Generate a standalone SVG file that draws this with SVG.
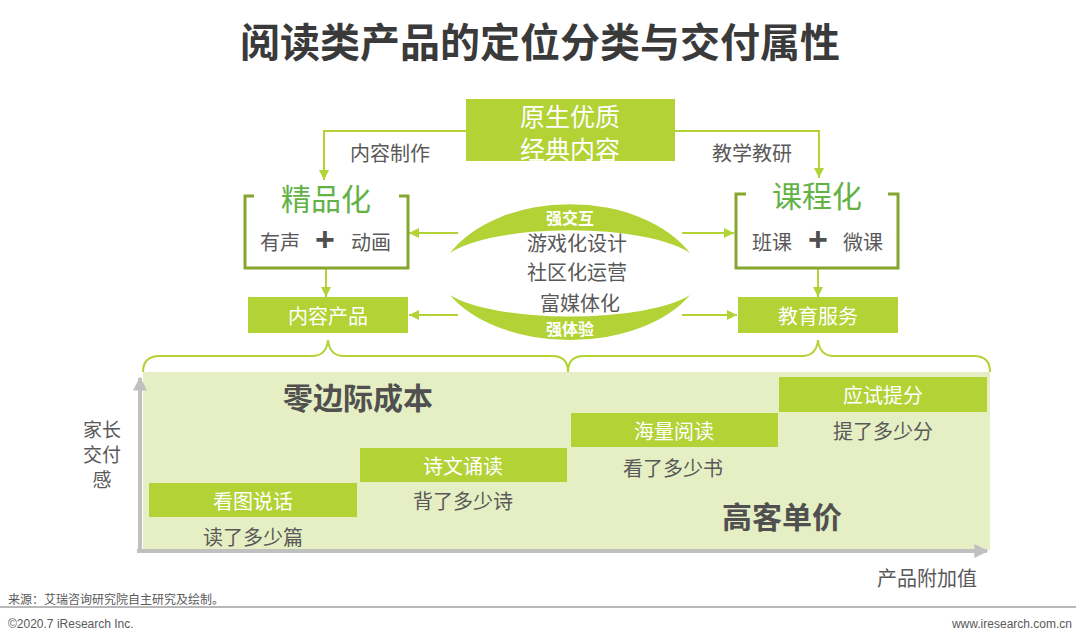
<svg xmlns="http://www.w3.org/2000/svg" width="1080" height="644" viewBox="0 0 1080 644">
<defs>
<style>
text{font-family:"Noto Sans CJK SC","Liberation Sans",sans-serif;}
.t{fill:#595959;font-size:20px;text-anchor:middle;dominant-baseline:central;}
.w{fill:#ffffff;font-size:20px;text-anchor:middle;dominant-baseline:central;}
.box{fill:#b2d235;}
.con{fill:none;stroke:#b2d235;stroke-width:2;}
.brk{fill:none;stroke:#86a62e;stroke-width:3;}
.big{fill:#62b246;font-size:30px;text-anchor:middle;dominant-baseline:central;}
.bold{fill:#505050;font-size:30px;font-weight:bold;text-anchor:middle;dominant-baseline:central;}
.plus{fill:#505050;font-size:34px;font-weight:bold;text-anchor:middle;dominant-baseline:central;font-family:"Liberation Sans",sans-serif;}
.axis{fill:none;stroke:#c0c0c0;stroke-width:4;}
.ylab{fill:#595959;font-size:19px;text-anchor:middle;dominant-baseline:central;}
</style>
<marker id="ah" viewBox="0 0 10 10" refX="10" refY="5" markerWidth="10" markerHeight="10" markerUnits="userSpaceOnUse" orient="auto">
<path d="M0,0 L10,5 L0,10 Z" fill="#b2d235"/>
</marker>
<marker id="ax" viewBox="0 0 10 10" refX="9" refY="5" markerWidth="14" markerHeight="14" markerUnits="userSpaceOnUse" orient="auto">
<path d="M0,0 L10,5 L0,10 Z" fill="#c0c0c0"/>
</marker>
</defs>
<rect width="1080" height="644" fill="#ffffff"/>
<text x="540" y="40" style="font-size:40px;font-weight:bold;fill:#3a3a3a;text-anchor:middle;dominant-baseline:central;">阅读类产品的定位分类与交付属性</text>

<g id="background">
<rect x="143" y="372" width="847" height="178" fill="#e6efc4"/>
</g>

<g id="connectors">
<path class="con" d="M466,131 H324 V180" marker-end="url(#ah)"/>
<path class="con" d="M675,131 H819 V178" marker-end="url(#ah)"/>
<path class="con" d="M326,268 V297" marker-end="url(#ah)"/>
<path class="con" d="M818,268 V297" marker-end="url(#ah)"/>
<path class="con" d="M458,233 H409" marker-end="url(#ah)"/>
<path class="con" d="M682,233 H734" marker-end="url(#ah)"/>
<path class="con" d="M458,315 H409" marker-end="url(#ah)"/>
<path class="con" d="M682,315 H737" marker-end="url(#ah)"/>
<path class="con" d="M143,372 C143,361 149,356 160,356 L312,356 C322,356 327,350 328,340 C329,350 334,356 344,356 L552,356 C562,356 568,361 568,372"/>
<path class="con" d="M568,372 C568,361 574,356 584,356 L802,356 C812,356 817,350 818,340 C819,350 824,356 834,356 L974,356 C984,356 990,361 990,372"/>
<path class="axis" d="M140,551 V378" marker-end="url(#ax)"/>
<path class="axis" d="M137,551 H987" marker-end="url(#ax)"/>
</g>
<text class="t" x="390" y="152">内容制作</text>
<text class="t" x="752" y="152">教学教研</text>

<g id="source">
<rect class="box" x="466" y="99" width="209" height="62"/>
<text class="w" x="570" y="115" style="font-size:25px">原生优质</text>
<text class="w" x="570" y="148" style="font-size:25px">经典内容</text>
</g>

<g id="jingpin">
<path class="brk" d="M254,196 H245 V268 H408 V196 H399"/>
<text class="big" x="326" y="197">精品化</text>
<text class="t" x="280" y="241">有声</text>
<text class="plus" x="325" y="239">+</text>
<text class="t" x="371" y="241">动画</text>
</g>

<g id="kecheng">
<path class="brk" d="M746,194 H736 V268 H898 V194 H888"/>
<text class="big" x="817" y="194">课程化</text>
<text class="t" x="772" y="241">班课</text>
<text class="plus" x="818" y="239">+</text>
<text class="t" x="863" y="241">微课</text>
</g>

<g id="neirong">
<rect class="box" x="248" y="297" width="160" height="36"/>
<text class="w" x="328" y="315">内容产品</text>
</g>

<g id="jiaoyu">
<rect class="box" x="738" y="297" width="160" height="36"/>
<text class="w" x="818" y="315">教育服务</text>
</g>

<g id="center">
<path fill="#b2d235" d="M450,253 A135,90 0 0 1 690,253 A130,37 0 0 0 450,253 Z"/>
<path fill="#b2d235" d="M450,295 A135,83 0 0 0 690,295 A130,35 0 0 1 450,295 Z"/>
<text x="570" y="217" style="fill:#fff;font-size:16px;font-weight:bold;text-anchor:middle;dominant-baseline:central;">强交互</text>
<text x="570" y="328" style="fill:#fff;font-size:16px;font-weight:bold;text-anchor:middle;dominant-baseline:central;">强体验</text>
<text class="t" x="577" y="242">游戏化设计</text>
<text class="t" x="577" y="271">社区化运营</text>
<text class="t" x="580" y="302">富媒体化</text>
</g>

<g id="step1">
<rect class="box" x="149" y="483" width="208" height="34"/>
<text class="w" x="253" y="500">看图说话</text>
<text class="t" x="253" y="536">读了多少篇</text>
</g>
<g id="step2">
<rect class="box" x="360" y="448" width="207" height="34"/>
<text class="w" x="463" y="465">诗文诵读</text>
<text class="t" x="463" y="500">背了多少诗</text>
</g>
<g id="step3">
<rect class="box" x="571" y="413" width="207" height="34"/>
<text class="w" x="674" y="430">海量阅读</text>
<text class="t" x="673" y="467">看了多少书</text>
</g>
<g id="step4">
<rect class="box" x="779" y="377" width="208" height="35"/>
<text class="w" x="883" y="394">应试提分</text>
<text class="t" x="883" y="430">提了多少分</text>
</g>

<text class="bold" x="358" y="396">零边际成本</text>
<text class="bold" x="782" y="515">高客单价</text>

<g id="axis-labels">
<text class="ylab" x="102" y="428">家长</text>
<text class="ylab" x="102" y="453">交付</text>
<text class="ylab" x="102" y="478">感</text>
<text class="t" x="927" y="577">产品附加值</text>
</g>

<g id="footer">
<text x="8" y="598" style="fill:#595959;font-size:12px;dominant-baseline:central;">来源：艾瑞咨询研究院自主研究及绘制。</text>
<line x1="0" y1="607" x2="1076" y2="607" stroke="#a0a0a0" stroke-width="1.5"/>
<text x="8" y="624" style="fill:#595959;font-size:12px;dominant-baseline:central;font-family:'Liberation Sans Narrow','Liberation Sans',sans-serif;">©2020.7 iResearch Inc.</text>
<text x="1072" y="624" style="fill:#595959;font-size:12px;text-anchor:end;dominant-baseline:central;font-family:'Liberation Sans Narrow','Liberation Sans',sans-serif;">www.iresearch.com.cn</text>
</g>
</svg>
